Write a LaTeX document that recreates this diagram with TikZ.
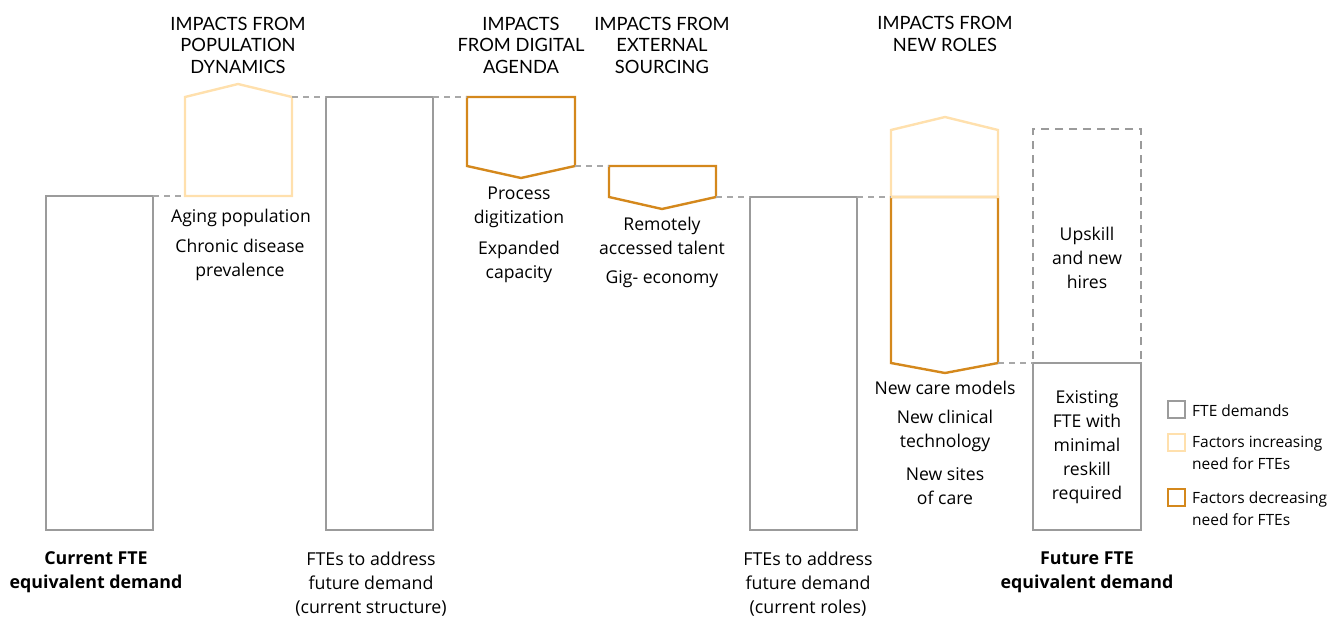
\documentclass[tikz,border=0pt]{standalone}
\usepackage{fontspec}
\setmainfont{Open Sans}
\newfontfamily\titlefont{Lato}
\definecolor{fgray}{HTML}{9B9B9B}
\definecolor{lightor}{HTML}{FFE0AD}
\definecolor{darkor}{HTML}{D4881C}
\definecolor{dashg}{HTML}{A8A8A8}
\tikzset{
  bar/.style={draw=fgray, line width=2.4pt, anchor=north west, inner sep=0pt, outer sep=0pt},
  incr/.style={draw=lightor, line width=2.4pt, line join=miter},
  decr/.style={draw=darkor, line width=2.4pt, line join=miter},
  conn/.style={draw=dashg, line width=1.6pt, dash pattern=on 6pt off 5pt},
  title/.style={font=\titlefont\fontsize{18.3}{21.5}\selectfont, align=center, inner sep=0pt},
  body/.style={font=\fontsize{17.6}{24}\selectfont, align=center, inner sep=0pt},
  bottom/.style={font=\fontsize{17.8}{24}\selectfont, align=center, inner sep=0pt},
  btitle/.style={font=\bfseries\fontsize{17.8}{24}\selectfont, align=center, inner sep=0pt},
  legtext/.style={font=\fontsize{15.5}{22}\selectfont, align=left, anchor=west, inner sep=0pt},
  legbox/.style={line width=2.4pt, anchor=north west, minimum width=17pt, minimum height=17pt, inner sep=0pt, outer sep=0pt},
}
\begin{document}
\begin{tikzpicture}[x=1pt,y=-1pt]
\useasboundingbox (0,0) rectangle (1343,618);

% bars
\node[bar, minimum width=107pt, minimum height=334pt] (cur) at (46,196) {};
\node[bar, minimum width=107pt, minimum height=433pt] (fstruct) at (326,97) {};
\node[bar, minimum width=107pt, minimum height=333pt] (froles) at (750,197) {};
\node[bar, minimum width=108pt, minimum height=167pt] (exist) at (1033,363) {};
\node[bar, dash pattern=on 8pt off 6pt, minimum width=108pt, minimum height=234pt] (upsk) at (1033,129) {};

% population dynamics (increase)
\draw[incr] (185,196) coordinate (popbl) -- (185,97) -- (238,84) -- (292,97) coordinate (poptr) -- (292,196) -- cycle;
% digital agenda (decrease)
\draw[decr] (467,97) coordinate (digtl) -- (575,97) -- (575,166) coordinate (digbr) -- (521,178) -- (467,166) -- cycle;
% external sourcing (decrease)
\draw[decr] (609,166) coordinate (exttl) -- (716,166) -- (716,197) coordinate (extbr) -- (662,209) -- (609,197) -- cycle;
% new roles
\draw[decr] (891,197) coordinate (nrtl) -- (998,197) -- (998,363) coordinate (nrbr) -- (945,373) -- (891,363) -- cycle;
\draw[incr] (891,197) -- (891,130) -- (945,117) -- (998,130) -- (998,197) -- cycle;

% dashed connectors
\draw[conn] (cur.north east) -- (popbl);
\draw[conn] (poptr) -- (fstruct.north west);
\draw[conn] (fstruct.north east) -- (digtl);
\draw[conn] (digbr) -- (exttl);
\draw[conn] (extbr) -- (froles.north west);
\draw[conn] (froles.north east) -- (nrtl);
\draw[conn] (nrbr) -- (exist.north west);

% titles
\node[title] (t1) at (238,45) {IMPACTS FROM\\POPULATION\\DYNAMICS};
\node[title] (t2) at (521,45) {IMPACTS\\FROM DIGITAL\\AGENDA};
\node[title] (t3) at (662,45) {IMPACTS FROM\\EXTERNAL\\SOURCING};
\node[title] (t4) at (945,34) {IMPACTS FROM\\NEW ROLES};

% labels
\node[body] (l1) at (241,218) {Aging population};
\node[body] (l2) at (240,260) {Chronic disease\\prevalence};
\node[body] (l3) at (519,207) {Process\\digitization};
\node[body] (l4) at (519,262) {Expanded\\capacity};
\node[body] (l5) at (662,236) {Remotely\\accessed talent};
\node[body] (l6) at (662,279) {Gig- economy};
\node[body] (l7) at (945,388) {New care models};
\node[body] (l8) at (945,431) {New clinical\\technology};
\node[body] (l9) at (945,486) {New sites\\of care};
\node[body] (l10) at (1087,258) {Upskill\\and new\\hires};
\node[body] (l11) at (1087,447) {Existing\\FTE with\\minimal\\reskill\\required};

% bottom labels
\node[btitle] (b1) at (96,572) {Current FTE\\equivalent demand};
\node[bottom] (b2) at (371,584) {FTEs to address\\future demand\\(current structure)};
\node[bottom] (b3) at (808,584) {FTEs to address\\future demand\\(current roles)};
\node[btitle] (b4) at (1087,572) {Future FTE\\equivalent demand};

% legend
\node[legbox, draw=fgray] (lg1) at (1168,401) {};
\node[legbox, draw=lightor] (lg2) at (1168,434) {};
\node[legbox, draw=darkor] (lg3) at (1168,489) {};
\node[legtext] (lt1) at (1192,411) {FTE demands};
\node[legtext] (lt2) at (1192,453) {Factors increasing\\need for FTEs};
\node[legtext] (lt3) at (1192,509) {Factors decreasing\\need for FTEs};
\end{tikzpicture}
\end{document}
